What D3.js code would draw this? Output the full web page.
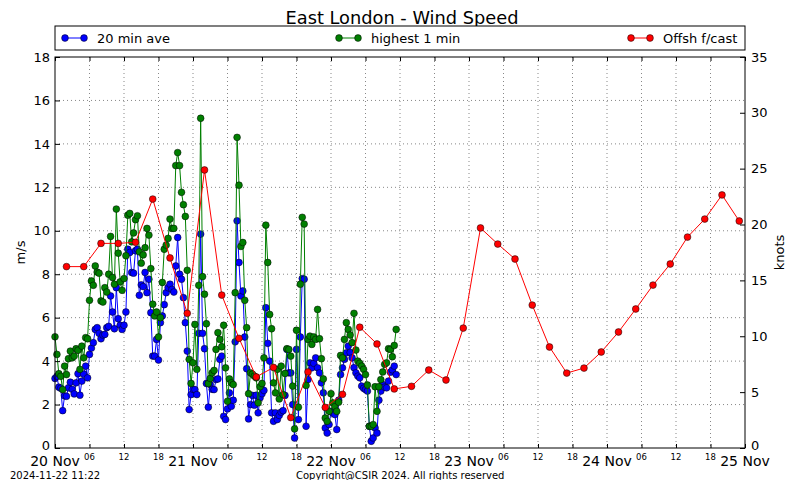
<!DOCTYPE html>
<html><head><meta charset="utf-8">
<script src="https://cdn.jsdelivr.net/npm/d3@7"></script>
<style>body{margin:0;background:#fff}svg{font-family:"DejaVu Sans",sans-serif}</style>
</head><body>
<svg id="c" width="800" height="480"></svg>
<script>
// ---- data ----
const obsStart = Date.UTC(2024, 10, 20, 0, 0);   // 20-min observations
const obsStepMin = 20;
const fcStart = Date.UTC(2024, 10, 20, 2, 0);    // 3-hourly forecast
const fcStepMin = 180;

const ave20 = [
3.2,3.3,2.8, 2.75,1.72,2.4, 2.38,2.77,3.03, 2.7,2.49,3.0, 3.42,2.43,3.08, 3.4,3.77,3.23,
4.31,4.6,4.85, 5.46,5.54,5.28, 5.03,5.2,5.23, 5.54,5.6,7.0, 6.26,5.49,7.38, 5.95,5.65,5.46,
5.65,6.26,9.15, 9.0,8.08,8.05, 9.08,9.15,7.03, 7.51,7.43,8.08, 7.15,7.77,6.23, 4.23,4.23,5.0,
4.05,5.77,6.08, 6.6,7.15,7.38, 7.54,7.3,7.18, 8.38,9.69,8.0, 7.77,6.92,5.77, 4.46,1.77,2.46,
2.7,2.69,2.46, 5.28,9.85,5.28, 4.57,2.97,1.88, 2.92,2.7,2.69, 3.15,3.18,4.08, 4.23,1.46,1.31,
1.8,2.54,1.92, 2.2,4.89,10.46, 8.54,7.0,7.23, 5.11,3.65,1.34, 2.0,2.42,1.97, 2.43,1.62,2.31,
2.5,2.65,6.46, 4.82,4.0,1.62, 1.23,1.62,1.31, 1.5,1.65,1.72, 2.42,4.54,3.46, 3.46,2.0,0.46,
4.54,1.31,5.11, 7.8,7.77,1.0, 3.15,3.92,3.69, 3.9,4.15,3.69, 3.46,3.0,2.54, 0.92,0.69,1.08,
1.69,1.6,1.54, 0.85,2.2,3.38, 3.69,4.08,4.38, 4.69,4.4,4.15, 3.7,3.46,3.31, 3.23,2.85,2.75,
2.69,2.62,1.0, 0.31,0.46,0.92, 0.69,2.2,2.62, 2.92,2.8,2.77, 3.08,3.49,3.6, 3.77,3.38
];
const high1 = [
5.12,4.31,3.42, 3.3,2.69,3.77, 3.38,4.11,4.46, 4.15,4.23,4.57, 4.5,3.62,4.69, 4.15,5.08,5.03,
6.8,7.69,7.49, 8.38,8.1,8.05, 6.77,6.72,7.38, 7.18,8.0,9.74, 7.85,7.54,11.0, 8.97,7.65,7.26,
7.8,8.85,10.72, 10.8,9.49,9.9, 10.51,10.69,9.03, 8.51,8.89,9.22, 10.11,9.8,8.26, 6.62,6.08,6.26,
5.11,6.0,7.62, 9.15,9.34,9.65, 10.54,10.11,10.11, 13.0,13.6,13.0, 11.77,11.2,10.66, 8.18,4.08,2.97,
3.92,5.69,3.62, 7.49,15.18,7.89, 7.08,5.72,2.97, 3.2,3.46,3.57, 4.54,5.31,5.0, 4.66,5.65,3.69,
2.15,3.18,3.0, 2.92,7.15,14.3, 12.1,9.28,9.46, 6.8,5.54,2.5, 3.46,3.4,3.31, 3.23,2.08,2.82,
2.97,4.15,10.26, 8.54,6.15,5.49, 3.0,2.54,3.62, 2.26,3.77,2.46, 3.43,4.57,4.54, 4.23,2.85,0.88,
5.42,1.88,7.54, 10.62,10.31,2.88, 5.0,5.15,4.77, 5.11,5.0,6.38, 5.03,4.11,3.18, 1.38,1.23,1.69,
2.5,2.08,1.9, 1.69,2.11,4.26, 4.15,5.0,5.77, 5.46,5.2,4.85, 6.2,4.51,4.0, 3.9,3.77,3.62,
3.38,2.9,1.0, 1.0,1.08,2.82, 1.69,2.82,3.15, 3.5,3.85,3.92, 4.57,4.54,4.2, 4.72,5.46
];
const offshFcast = [
8.35,8.35,9.42,9.42,9.47,11.46,8.75,6.2,12.8,7.04,5.05,3.27,3.71,1.4,3.5,1.87,2.47,5.56,4.79,2.72,
2.84,3.59,3.13,5.52,10.13,9.39,8.70,6.58,4.65,3.45,3.68,4.42,5.34,6.40,7.50,8.47,9.71,10.54,11.65,10.45
];
const msTicks = [0,2,4,6,8,10,12,14,16,18];
const knotTicks = [0,5,10,15,20,25,30,35];
const dayLabels = ["20 Nov","21 Nov","22 Nov","23 Nov","24 Nov","25 Nov"];
const hourLabels = ["06","12","18"];
const seriesNames = ["20 min ave","highest 1 min","Offsh f/cast"];
const seriesColors = ["#0000ff","#007f00","#ff0000"];
const titleText = "East London - Wind Speed";
const stampText = "2024-11-22 11:22";
const copyText = "Copyright@CSIR 2024. All rights reserved";

// ---- layout ----
const L = 55, R = 745, T = 57, B = 448;
const svg = d3.select("#c");
const x = d3.scaleUtc().domain([Date.UTC(2024,10,20), Date.UTC(2024,10,25)]).range([L, R]);
const y = d3.scaleLinear().domain([0, 18]).range([B, T]);
const yk = d3.scaleLinear().domain([0, 35]).range([B, y(35/1.943844)]);

const obs = (arr) => arr.map((v,i) => ({t: new Date(obsStart + i*obsStepMin*60000), v}));
const fc = offshFcast.map((v,i) => ({t: new Date(fcStart + i*fcStepMin*60000), v}));
const sets = [obs(ave20), obs(high1), fc];

// grid
const sixH = d3.utcHour.every(6).range(new Date(Date.UTC(2024,10,20)), new Date(Date.UTC(2024,10,25,1)));
const g = svg.append("g");
g.selectAll(".gx").data(sixH.filter(d => +d > +x.domain()[0] && +d < +x.domain()[1])).join("line")
  .attr("x1", d => x(d)).attr("x2", d => x(d)).attr("y1", T).attr("y2", B)
  .attr("stroke", "#555").attr("stroke-width", 0.7).attr("stroke-dasharray", "1,3");
g.selectAll(".gy").data(msTicks.filter(d => d > 0 && d < 18)).join("line")
  .attr("x1", L).attr("x2", R).attr("y1", d => y(d)).attr("y2", d => y(d))
  .attr("stroke", "#555").attr("stroke-width", 0.7).attr("stroke-dasharray", "1,3");

// series
const line = d3.line().x(d => x(d.t)).y(d => y(d.v));
sets.forEach((data, k) => {
  const sg = svg.append("g");
  sg.append("path").datum(data).attr("d", line).attr("fill","none")
    .attr("stroke", seriesColors[k]).attr("stroke-width", 1);
  sg.selectAll("circle").data(data).join("circle")
    .attr("cx", d => x(d.t)).attr("cy", d => y(d.v)).attr("r", 3.4)
    .attr("fill", seriesColors[k]).attr("stroke", "#000").attr("stroke-width", 0.5);
});

// frame
svg.append("rect").attr("x", L).attr("y", T).attr("width", R-L).attr("height", B-T)
  .attr("fill","none").attr("stroke","#000").attr("stroke-width",1);

// axes
const fs = 13;
const ax = svg.append("g").attr("transform", `translate(0,${B})`)
  .call(d3.axisBottom(x).tickValues(sixH).tickSizeInner(-4).tickSizeOuter(0).tickFormat(() => ""));
ax.select(".domain").remove();
ax.selectAll(".tick line").attr("stroke","#000");
const axTop = svg.append("g").attr("transform", `translate(0,${T})`)
  .call(d3.axisTop(x).tickValues(sixH).tickSizeInner(-4).tickSizeOuter(0).tickFormat(() => ""));
axTop.select(".domain").remove();
sixH.forEach(d => {
  const h = d.getUTCHours();
  if (h === 0) {
    const day = Math.round((+d - Date.UTC(2024,10,20)) / 86400000);
    svg.append("text").attr("x", x(d)).attr("y", B + 18).attr("text-anchor","middle")
      .attr("font-size", 14).text(dayLabels[day]);
  } else {
    svg.append("text").attr("x", x(d)).attr("y", B + 12).attr("text-anchor","middle")
      .attr("font-size", 8.5).text(hourLabels[h/6 - 1]);
  }
});
const ay = svg.append("g").attr("transform", `translate(${L},0)`)
  .call(d3.axisLeft(y).tickValues(msTicks).tickSizeInner(-5).tickSizeOuter(0).tickPadding(5));
ay.select(".domain").remove();
ay.selectAll("text").attr("font-size", fs).attr("font-family","DejaVu Sans").attr("fill","#000");
ay.selectAll(".tick").filter(d => d === 0).select("text").attr("dy", "0.15em");
const ayr = svg.append("g").attr("transform", `translate(${R},0)`)
  .call(d3.axisRight(yk).tickValues(knotTicks).tickSizeInner(-5).tickSizeOuter(0).tickPadding(6));
ayr.select(".domain").remove();
ayr.selectAll("text").attr("font-size", fs).attr("font-family","DejaVu Sans").attr("fill","#000");
ayr.selectAll(".tick").filter(d => d === 0).select("text").attr("dy", "0.15em");

svg.append("text").attr("transform", `translate(25,${(T+B)/2}) rotate(-90)`)
  .attr("text-anchor","middle").attr("font-size", 13).text("m/s");
svg.append("text").attr("transform", `translate(784,${(T+B)/2}) rotate(-90)`)
  .attr("text-anchor","middle").attr("font-size", 13).text("knots");

// title
svg.append("text").attr("x", 402).attr("y", 24).attr("text-anchor","middle")
  .attr("font-size", 17.8).text(titleText);

// legend
svg.append("rect").attr("x", L).attr("y", 26).attr("width", R-L).attr("height", 24)
  .attr("fill","#fff").attr("stroke","#000").attr("stroke-width",1);
const legX = [62, 336, 628];
seriesNames.forEach((n, k) => {
  const lg = svg.append("g").attr("transform", `translate(${legX[k]},38)`);
  lg.append("line").attr("x1",3).attr("x2",22).attr("stroke",seriesColors[k]).attr("stroke-width",1);
  [3,22].forEach(cx => lg.append("circle").attr("cx",cx).attr("r",3.4)
    .attr("fill",seriesColors[k]).attr("stroke","#000").attr("stroke-width",0.5));
  lg.append("text").attr("x", 35).attr("y", 4.5).attr("font-size", 13).text(n);
});

// footer
svg.append("text").attr("x", 10).attr("y", 479).attr("font-size", 10).text(stampText);
svg.append("text").attr("x", 296).attr("y", 479).attr("font-size", 10).text(copyText);
</script>
</body></html>
